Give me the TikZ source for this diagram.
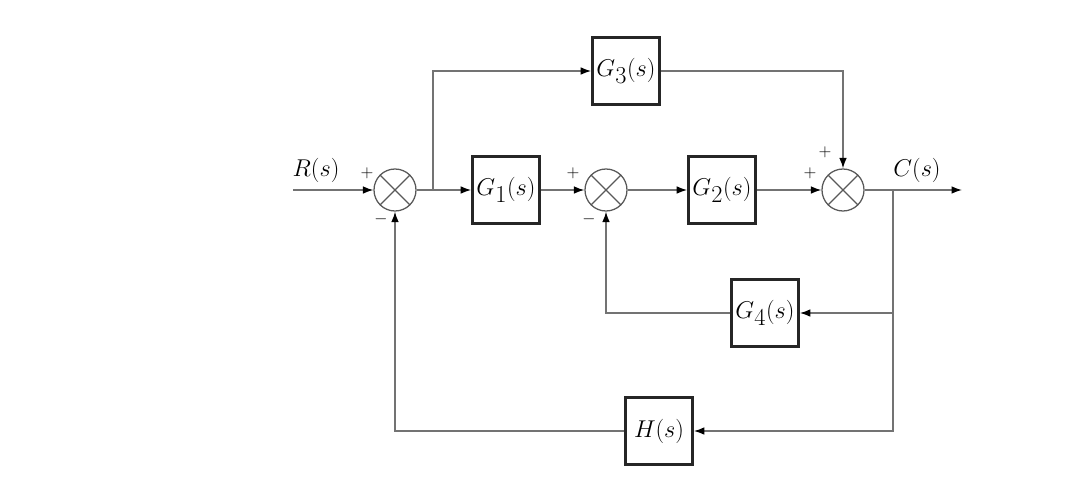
\documentclass[tikz,border=0pt]{standalone}
\usepackage{amsmath}
\usepackage{tikz}
\usetikzlibrary{arrows.meta}

\begin{document}
\begin{tikzpicture}[x=0.025cm,y=-0.025cm,
	blk/.style={draw=black!85,line width=1.8pt,minimum size=1.68cm,inner sep=0pt,font=\fontsize{16}{18}\selectfont},
	sumnode/.style={draw=black!65,circle,line width=0.9pt,minimum size=1.05cm,inner sep=0pt,
		path picture={\draw[black!65,line width=0.9pt] (path picture bounding box.north west) -- (path picture bounding box.south east)
			(path picture bounding box.north east) -- (path picture bounding box.south west);}},
	wire/.style={black!55,line width=1pt},
	sig/.style={wire,-{Latex[length=2.6mm,width=1.9mm,color=black]}},
	sgn/.style={font=\fontsize{12}{12}\selectfont,inner sep=0pt}]
	\useasboundingbox (0,0) rectangle (1080,494);
	% blocks and summing points
	\node[sumnode] (s1) at (395,190) {};
	\node[blk] (g1) at (506,190) {$G_{\textstyle 1}(s)$};
	\node[sumnode] (s2) at (606,190) {};
	\node[blk] (g2) at (722,190) {$G_{\textstyle 2}(s)$};
	\node[sumnode] (s3) at (843,190) {};
	\node[blk] (g3) at (626,71) {$G_{\textstyle 3}(s)$};
	\node[blk] (g4) at (765,313) {$G_{\textstyle 4}(s)$};
	\node[blk] (h) at (659,431) {$H(s)$};
	\coordinate (rin) at (293,190);
	\coordinate (b1) at (433,190);
	\coordinate (b2) at (893,190);
	\coordinate (cout) at (962,190);
	% signals
	\node[font=\fontsize{16}{18}\selectfont] (rlbl) at (316,170) {$R(s)$};
	\node[font=\fontsize{16}{18}\selectfont] (clbl) at (917,170) {$C(s)$};
	\node[sgn] (p1) at (367,173) {$+$};
	\node[sgn] (m1) at (381,219) {$-$};
	\node[sgn] (p2) at (573,173) {$+$};
	\node[sgn] (m2) at (589,219) {$-$};
	\node[sgn] (p3) at (810,173) {$+$};
	\node[sgn] (p4) at (825,152) {$+$};
	% forward path
	\draw[sig] (rin) -- (s1);
	\draw[sig] (s1) -- (g1);
	\draw[sig] (b1) |- (g3);
	\draw[sig] (g1) -- (s2);
	\draw[sig] (s2) -- (g2);
	\draw[sig] (g2) -- (s3);
	\draw[sig] (g3) -| (s3);
	\draw[sig] (s3) -- (cout);
	% feedback loops
	\draw[sig] (b2) |- (g4);
	\draw[sig] (g4) -| (s2);
	\draw[sig] (b2) |- (h);
	\draw[sig] (h) -| (s1);
\end{tikzpicture}
\end{document}
